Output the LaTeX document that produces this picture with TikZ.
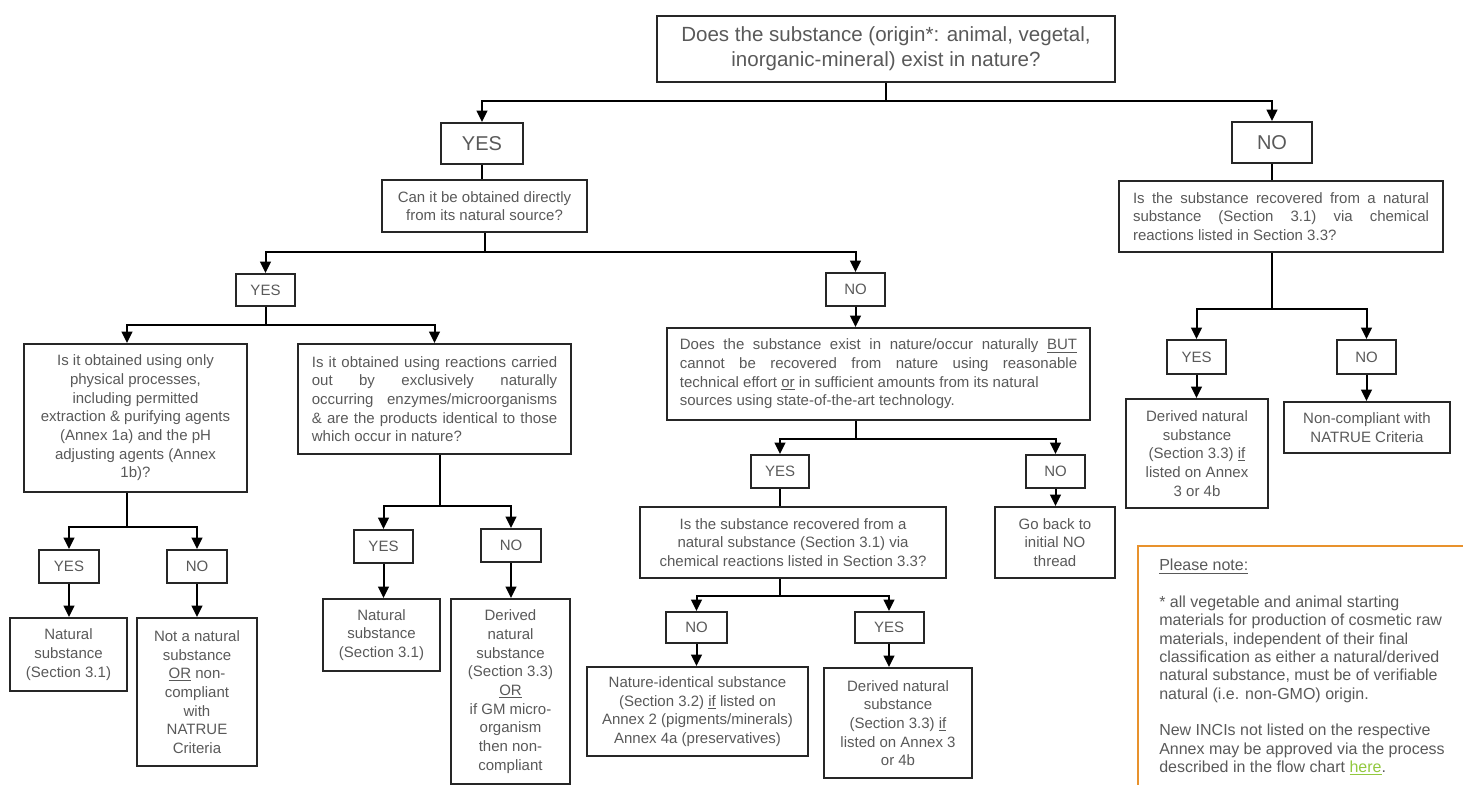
\documentclass[tikz,border=0pt]{standalone}
\usepackage{fontspec}
\setmainfont{Liberation Sans}
\usetikzlibrary{arrows.meta,calc}
\definecolor{txt}{HTML}{595959}
\definecolor{brd}{HTML}{262626}
\definecolor{orng}{HTML}{E8922D}
\definecolor{grn}{HTML}{92C83E}
\newcommand{\fsN}{\fontsize{11.25}{14}\selectfont}
\newcommand{\fsB}{\fontsize{15.4}{18.75}\selectfont}
\newcommand{\fsL}{\fontsize{15}{18}\selectfont}
\newcommand{\fsS}{\fontsize{12}{13.75}\selectfont}
\begin{document}
\begin{tikzpicture}[x=0.75pt,y=-0.75pt,
 box/.style={draw=brd, line width=1.5pt, text=txt, font=\fsN, inner sep=2pt, align=center},
 jbox/.style={box, align=justify, execute at begin node={\hyphenpenalty=10000\exhyphenpenalty=10000}},
 arr/.style={line width=1.5pt, draw=black, -{Triangle[length=8.5pt,width=8pt]}},
 ln/.style={line width=1.5pt, draw=black}]
\useasboundingbox (0,0) rectangle (1463,785);

\node[box, font=\fsB, minimum width=343.5pt, minimum height=49.5pt] (top) at (886,49) {Does the substance (origin*: animal, vegetal,\\ inorganic-mineral) exist in nature?};
\node[box, font=\fsL, minimum width=61.5pt, minimum height=30.75pt] (yesT) at (482,143.5) {YES};
\node[box, font=\fsL, minimum width=60pt, minimum height=30.75pt] (noT) at (1272,142.5) {NO};
\node[box, minimum width=153.75pt, minimum height=39pt] (can) at (484.5,206) {Can it be obtained directly\\ from its natural source?};
\node[box, minimum width=44.25pt, minimum height=24pt] (yes1) at (265.5,290) {YES};
\node[box, minimum width=44.25pt, minimum height=24.75pt] (no1) at (855.5,289.5) {NO};
\node[box, minimum width=167.25pt, minimum height=111pt] (q1) at (135.5,418) {Is it obtained using only\\ physical processes,\\ including permitted\\ extraction \& purifying agents\\ (Annex 1a) and the pH\\ adjusting agents (Annex\\ 1b)?};
\node[jbox, text width=184pt, minimum width=204.75pt, minimum height=82.5pt] (q2) at (434.5,399) {Is it obtained using reactions carried\linebreak out by exclusively naturally\linebreak occurring enzymes/microorganisms\linebreak \& are the products identical to those\linebreak which occur in nature?};
\node[box, minimum width=45pt, minimum height=24.75pt] (yes2) at (69,566.5) {YES};
\node[box, minimum width=45pt, minimum height=24.75pt] (no2) at (197,566.5) {NO};
\node[box, minimum width=87.75pt, minimum height=54.75pt] (nat1) at (68.5,654.5) {Natural\\ substance\\ (Section 3.1)};
\node[box, minimum width=90pt, minimum height=111pt] (notnat) at (197,692) {Not a natural\\ substance\\ \underline{OR} non-\\ compliant\\ with\\ NATRUE\\ Criteria};
\node[box, minimum width=44.25pt, minimum height=24.75pt] (yes3) at (383.5,546.5) {YES};
\node[box, minimum width=45pt, minimum height=24.75pt] (no3) at (511,545.5) {NO};
\node[box, minimum width=87.75pt, minimum height=54pt] (nat2) at (381.5,635) {Natural\\ substance\\ (Section 3.1)};
\node[box, minimum width=89.25pt, minimum height=138.75pt] (der1) at (510.5,691.5) {Derived\\ natural\\ substance\\ (Section 3.3)\\ \underline{OR}\\ if GM micro-\\ organism\\ then non-\\ compliant};
\node[jbox, text width=298pt, minimum width=317.25pt, minimum height=69pt] (does) at (878.5,374) {Does the substance exist in nature/occur naturally \underline{BUT}\linebreak cannot be recovered from nature using reasonable\linebreak \hbox{technical effort \underline{or} in sufficient amounts from its natural}\\ sources using state-of-the-art technology.};
\node[box, minimum width=43.5pt, minimum height=24.75pt] (yes4) at (780,471.5) {YES};
\node[box, minimum width=44.25pt, minimum height=24.75pt] (no4) at (1055.5,471.5) {NO};
\node[box, minimum width=229.5pt, minimum height=53.25pt] (isq) at (793,542.5) {Is the substance recovered from a\\ natural substance (Section 3.1) via\\ chemical reactions listed in Section 3.3?};
\node[box, minimum width=90pt, minimum height=53.25pt] (goback) at (1055,542.5) {Go back to\\ initial NO\\ thread};
\node[box, minimum width=45.75pt, minimum height=23.25pt] (no5) at (696.5,627.5) {NO};
\node[box, minimum width=51.75pt, minimum height=23.25pt] (yes5) at (889,627.5) {YES};
\node[box, minimum width=165.75pt, minimum height=66.75pt] (natid) at (697.5,711.5) {Nature-identical substance\\ (Section 3.2) \underline{if} listed on\\ Annex 2 (pigments/minerals)\\ Annex 4a (preservatives)};
\node[box, minimum width=111pt, minimum height=82.5pt] (der2) at (898,723) {Derived natural\\ substance\\ (Section 3.3) \underline{if}\\ listed on Annex 3\\ or 4b};
\node[jbox, text width=222pt, minimum width=243pt, minimum height=53.25pt] (rq) at (1281,216.5) {Is the substance recovered from a natural\linebreak substance (Section 3.1) via chemical\linebreak reactions listed in Section 3.3?};
\node[box, minimum width=44.25pt, minimum height=25.5pt] (yes6) at (1196.5,357) {YES};
\node[box, minimum width=44.25pt, minimum height=25.5pt] (no6) at (1366.5,357) {NO};
\node[box, minimum width=106.5pt, minimum height=81.75pt] (der3) at (1197,453.5) {Derived natural\\ substance\\ (Section 3.3) \underline{if}\\ listed on Annex\\ 3 or 4b};
\node[box, minimum width=124.5pt, minimum height=38.25pt] (noncomp) at (1367,427.5) {Non-compliant with\\ NATRUE Criteria};

% note box
\coordinate (nbR) at (1463,546);
\coordinate (nbC) at (1138,546);
\coordinate (nbB) at (1138,785);
\draw[orng, line width=1.5pt] (nbR) -- (nbC) -- (nbB);
\node[anchor=north west, inner sep=0pt, align=left, text=txt, font=\fsS] (note) at (1159,559) {\underline{Please note:}\\[13.75pt]
* all vegetable and animal starting\\
materials for production of cosmetic raw\\
materials, independent of their final\\
classification as either a natural/derived\\
natural substance, must be of verifiable\\
natural (i.e. non-GMO) origin.\\[13.75pt]
New INCIs not listed on the respective\\
Annex may be approved via the process\\
described in the flow chart {\color{grn}\underline{here}}.};

% connectors
\draw[arr] (top.south) -- ++(0,18) -| (yesT.north);
\draw[arr] (top.south) -- ++(0,18) -| (noT.north);
\draw[ln] (yesT.south) -- (yesT.south |- can.north);
\draw[arr] (can.south) -- ++(0,19) -| (yes1.north);
\draw[arr] (can.south) -- ++(0,19) -| (no1.north);
\draw[arr] (yes1.south) -- ++(0,18) -| ($(q1.north)+(-8.5,0)$);
\draw[arr] (yes1.south) -- ++(0,18) -| (q2.north);
\draw[arr] ($(q1.south)+(-8.5,0)$) -- ++(0,34) -| (yes2.north);
\draw[arr] ($(q1.south)+(-8.5,0)$) -- ++(0,34) -| (no2.north);
\draw[arr] (yes2.south) -- (yes2.south |- nat1.north);
\draw[arr] (no2.south) -- (no2.south |- notnat.north);
\draw[arr] ($(q2.south)+(5.5,0)$) -- ++(0,51) -| (yes3.north);
\draw[arr] ($(q2.south)+(5.5,0)$) -- ++(0,51) -| (no3.north);
\draw[arr] (yes3.south) -- (yes3.south |- nat2.north);
\draw[arr] (no3.south) -- (no3.south |- der1.north);
\draw[arr] (no1.south) -- (no1.south |- does.north);
\draw[arr] (no1 |- does.south) -- ++(0,18) -| (yes4.north);
\draw[arr] (no1 |- does.south) -- ++(0,18) -| (no4.north);
\draw[ln] (yes4.south) -- (yes4.south |- isq.north);
\draw[arr] (no4.south) -- (no4.south |- goback.north);
\draw[arr] (yes4 |- isq.south) -- ++(0,17) -| (no5.north);
\draw[arr] (yes4 |- isq.south) -- ++(0,17) -| (yes5.north);
\draw[arr] (no5.south) -- (no5.south |- natid.north);
\draw[arr] (yes5.south) -- (yes5.south |- der2.north);
\draw[ln] (noT.south) -- (noT.south |- rq.north);
\draw[arr] (noT |- rq.south) -- ++(0,56) -| (yes6.north);
\draw[arr] (noT |- rq.south) -- ++(0,56) -| (no6.north);
\draw[arr] (yes6.south) -- (yes6.south |- der3.north);
\draw[arr] (no6.south) -- (no6.south |- noncomp.north);
\end{tikzpicture}
\end{document}
